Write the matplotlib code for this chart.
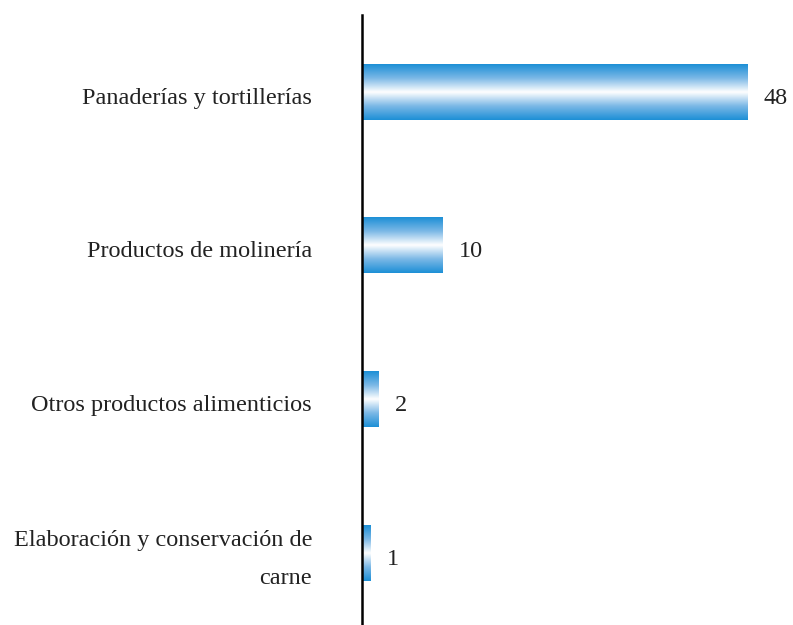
import numpy as np
import matplotlib
matplotlib.use("Agg")
import matplotlib.pyplot as plt
from matplotlib.colors import LinearSegmentedColormap

# data (top to bottom)
categories = ["Panaderías y tortillerías", "Productos de molinería",
              "Otros productos alimenticios", "Elaboración y conservación de\ncarne"]
values = [48, 10, 2, 1]

plt.rcParams['font.family'] = ['Liberation Serif', 'DejaVu Serif']

fig = plt.figure(figsize=(7.93, 6.25), dpi=100)
ax = fig.add_axes([362 / 793, 0, 431 / 793, 1 - 15 / 625])

ypos = np.arange(len(values))[::-1]
bar_h = 0.36
bars = ax.barh(ypos, values, height=bar_h, color='none', edgecolor='none')

# vertical blue-white-blue gradient inside each bar
cmap = LinearSegmentedColormap.from_list(
    "bw", ["#1c8fd6", "#7bb8e6", "#ffffff", "#7bb8e6", "#1c8fd6"])
grad = np.linspace(0, 1, 256).reshape(-1, 1)
for b in bars:
    x0, y0 = b.get_x(), b.get_y()
    ax.imshow(grad, cmap=cmap, aspect='auto', interpolation='bicubic',
              extent=[x0, x0 + b.get_width(), y0, y0 + b.get_height()], zorder=2)

fs = 17.5
# value labels, a bit below the bar centre like the original
for y, v in zip(ypos, values):
    ax.annotate(str(v), xy=(v, y), xytext=(12, -4.5), textcoords='offset points',
                va='center', ha='left', fontsize=fs, color='#222222')

# category labels
for y, c in zip(ypos, categories):
    ax.annotate(c, xy=(0, y), xycoords=('axes fraction', 'data'),
                xytext=(-36, -4.5), textcoords='offset points',
                va='center', ha='right', multialignment='right',
                fontsize=fs, color='#222222', linespacing=2.1)

ax.set_xlim(0, 53.7)
ax.set_ylim(-0.4675, 3.5)
ax.set_yticks([])
ax.set_xticks([])
for s in ['top', 'right', 'bottom']:
    ax.spines[s].set_visible(False)
ax.spines['left'].set_linewidth(1.8)
ax.spines['left'].set_color('black')

fig.savefig("out.png", dpi=100)
